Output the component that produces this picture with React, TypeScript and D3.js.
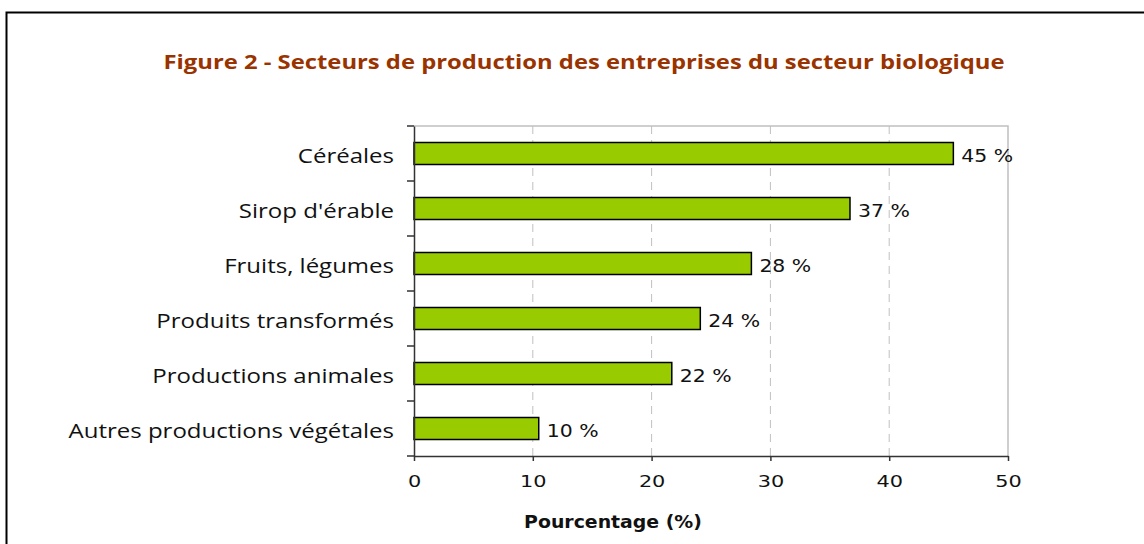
import React, { useEffect, useRef } from "react";
import * as d3 from "d3";

// ─── Data ─────────────────────────────────────────────────────────────────────
const TITLE = "Figure 2 - Secteurs de production des entreprises du secteur biologique";
const X_LABEL = "Pourcentage (%)";
const CATEGORIES = [
  "Céréales",
  "Sirop d'érable",
  "Fruits, légumes",
  "Produits transformés",
  "Productions animales",
  "Autres productions végétales",
];
const VALUES = [45.4, 36.7, 28.4, 24.1, 21.7, 10.5];
const VALUE_LABELS = ["45 %", "37 %", "28 %", "24 %", "22 %", "10 %"];
const X_TICKS = [0, 10, 20, 30, 40, 50];

// ─── Design tokens ────────────────────────────────────────────────────────────
const W = 1144;
const H = 544;
const PLOT = { left: 414, right: 1008, top: 126, bottom: 456 };
const BAR_FILL = "#99cc00";
const TITLE_FILL = "#993300";
const GRID = "#c0c0c0";
const LABEL_FONT = "'Open Sans', 'Noto Sans', sans-serif";
const NUM_FONT = "'DejaVu Sans', Verdana, sans-serif";

// The source picture is stretched sideways; widen glyphs to match.
function stretch(sel: d3.Selection<any, any, any, any>, factor: number) {
  sel.each(function () {
    const t = this as SVGTextElement;
    const len = t.getComputedTextLength();
    t.setAttribute("textLength", String(len * factor));
    t.setAttribute("lengthAdjust", "spacingAndGlyphs");
  });
}

export default function App() {
  const ref = useRef<SVGSVGElement>(null);

  useEffect(() => {
    const node = ref.current;
    if (!node) return;
    const svg = d3.select(node);
    svg.selectAll("*").remove();

    const x = d3.scaleLinear().domain([0, 50]).range([PLOT.left, PLOT.right]);
    const y = d3
      .scaleBand<string>()
      .domain(CATEGORIES)
      .range([PLOT.top, PLOT.bottom])
      .paddingInner(0.6)
      .paddingOuter(0.3);

    // ── Outer frame (only top/left visible, rest runs off the page) ─────────
    svg.append("rect")
      .attr("x", 6.5).attr("y", 12.5)
      .attr("width", W + 20).attr("height", H + 20)
      .attr("fill", "white")
      .attr("stroke", "#000").attr("stroke-width", 2);

    // ── Title ───────────────────────────────────────────────────────────────
    const title = svg.append("text")
      .attr("x", 584).attr("y", 69)
      .attr("text-anchor", "middle")
      .attr("font-family", LABEL_FONT)
      .attr("font-weight", "bold")
      .attr("font-size", 20)
      .attr("fill", TITLE_FILL)
      .text(TITLE);
    stretch(title, 1.19);

    // ── Grid lines & plot frame ─────────────────────────────────────────────
    svg.append("g")
      .selectAll("line")
      .data(X_TICKS.slice(1, -1))
      .join("line")
      .attr("x1", (d) => x(d)).attr("x2", (d) => x(d))
      .attr("y1", PLOT.top).attr("y2", PLOT.bottom)
      .attr("stroke", GRID)
      .attr("stroke-dasharray", "8,6");

    svg.append("path")
      .attr("d", `M${PLOT.left},${PLOT.top}H${PLOT.right}V${PLOT.bottom}`)
      .attr("fill", "none")
      .attr("stroke", GRID)
      .attr("stroke-width", 1.5);

    // ── Bars ────────────────────────────────────────────────────────────────
    svg.append("g")
      .selectAll("rect")
      .data(CATEGORIES)
      .join("rect")
      .attr("x", x(0))
      .attr("y", (d) => y(d)!)
      .attr("width", (_, i) => x(VALUES[i]) - x(0))
      .attr("height", y.bandwidth())
      .attr("fill", BAR_FILL)
      .attr("stroke", "#000")
      .attr("stroke-width", 1.5);

    // ── Value labels ────────────────────────────────────────────────────────
    const vals = svg.append("g")
      .selectAll("text")
      .data(CATEGORIES)
      .join("text")
      .attr("x", (_, i) => x(VALUES[i]) + 8)
      .attr("y", (d) => y(d)! + y.bandwidth() / 2 + 8)
      .attr("font-family", NUM_FONT)
      .attr("font-size", 17)
      .attr("fill", "#111")
      .text((_, i) => VALUE_LABELS[i]);
    stretch(vals, 1.2);

    // ── Y axis ──────────────────────────────────────────────────────────────
    const yAxis = svg.append("g")
      .attr("transform", `translate(${PLOT.left},0)`)
      .call(d3.axisLeft(y).tickSize(0).tickPadding(20));
    yAxis.select(".domain").attr("stroke", "#333").attr("stroke-width", 1.5);
    const yText = yAxis.selectAll("text")
      .attr("dy", null)
      .attr("y", 9)
      .attr("font-family", LABEL_FONT)
      .attr("font-size", 20)
      .attr("fill", "#111");
    stretch(yText, 1.2);

    const bandH = (PLOT.bottom - PLOT.top) / CATEGORIES.length;
    const boundaries = d3.range(CATEGORIES.length + 1).map((i) => PLOT.top + i * bandH);
    svg.append("g")
      .selectAll("line")
      .data(boundaries)
      .join("line")
      .attr("x1", PLOT.left - 7).attr("x2", PLOT.left)
      .attr("y1", (d) => d).attr("y2", (d) => d)
      .attr("stroke", "#333")
      .attr("stroke-width", 1.5);

    // ── X axis ──────────────────────────────────────────────────────────────
    const xAxis = svg.append("g")
      .attr("transform", `translate(0,${PLOT.bottom})`)
      .call(d3.axisBottom(x).tickValues(X_TICKS).tickSize(5).tickSizeOuter(0).tickPadding(15));
    xAxis.select(".domain").attr("stroke", "#333").attr("stroke-width", 1.5);
    xAxis.selectAll(".tick line").attr("stroke", "#333").attr("stroke-width", 1.5);
    const xText = xAxis.selectAll("text")
      .attr("font-family", NUM_FONT)
      .attr("font-size", 16)
      .attr("fill", "#111");
    stretch(xText, 1.3);

    const xl = svg.append("text")
      .attr("x", 613).attr("y", 528)
      .attr("text-anchor", "middle")
      .attr("font-family", NUM_FONT)
      .attr("font-weight", "bold")
      .attr("font-size", 17)
      .attr("fill", "#111")
      .text(X_LABEL);
    stretch(xl, 1.11);
  }, []);

  return (
    <svg
      ref={ref}
      width={W}
      height={H}
      style={{ position: "absolute", left: 0, top: 0, background: "white" }}
    />
  );
}
